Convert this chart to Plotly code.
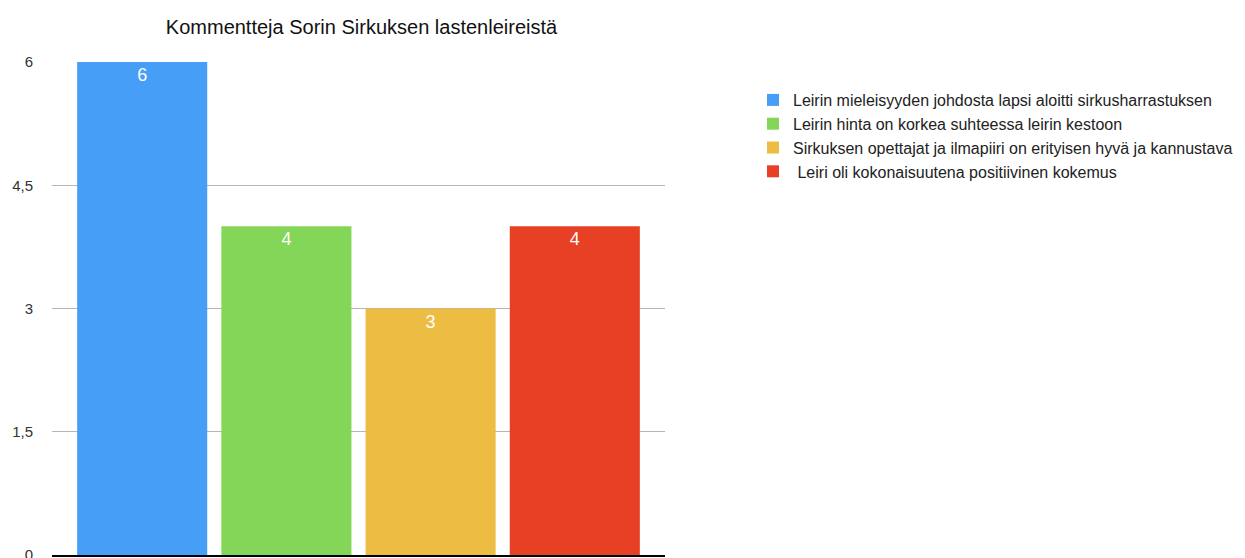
import plotly.graph_objects as go

title = "Kommentteja Sorin Sirkuksen lastenleireistä"
series_names = [
    "Leirin mieleisyyden johdosta lapsi aloitti sirkusharrastuksen",
    "Leirin hinta on korkea suhteessa leirin kestoon",
    "Sirkuksen opettajat ja ilmapiiri on erityisen hyvä ja kannustava",
    " Leiri oli kokonaisuutena positiivinen kokemus",
]
values = [6, 4, 3, 4]
colors = ["#479EF7", "#84D658", "#EDBD43", "#E84025"]
category = ["Kommentit"]
tick_vals = [0, 1.5, 3, 4.5, 6]

# page body has an 8px margin, so the figure is sized to fit the window
W, H = 1237, 550
OFF = 8

fig = go.Figure()
for name, v, c in zip(series_names, values, colors):
    fig.add_trace(go.Bar(
        x=category, y=[v], name=name,
        marker=dict(color=c, line=dict(width=0)),
        text=[str(v)], textposition="inside", insidetextanchor="end",
        textfont=dict(color="white", size=18, family="Liberation Sans"),
        constraintext="none",
    ))

fig.update_layout(
    width=W, height=H,
    margin=dict(l=52 - OFF, r=1245 - 665, t=62 - OFF, b=558 - 555, autoexpand=False),
    paper_bgcolor="white", plot_bgcolor="white",
    barmode="group", bargap=0.059, bargroupgap=0.098,
    separators=", ",
    font=dict(family="Liberation Sans", color="#222222", size=13),
    title=dict(text=title, x=(361.5 - OFF) / W, xanchor="center",
               y=1 - (27 - OFF) / H, yanchor="middle", yref="container",
               font=dict(size=20, color="#111111", family="Liberation Sans")),
    legend=dict(x=(753 - OFF) / W, xref="container", y=1 - (83 - OFF) / H, yref="container",
                yanchor="top", xanchor="left",
                font=dict(size=16, color="#222222"), tracegroupgap=0,
                itemwidth=30, bgcolor="rgba(0,0,0,0)"),
)
fig.update_xaxes(showticklabels=False, showgrid=False, showline=True,
                 linecolor="black", linewidth=2, ticks="", zeroline=False,
                 automargin=False)
fig.update_yaxes(range=[0, 6], tickvals=tick_vals, showgrid=True,
                 gridcolor="#b5b5b5", gridwidth=1, zeroline=False,
                 showline=False, ticks="", ticklabelstandoff=18,
                 ticklabeloverflow="allow", automargin=False,
                 tickfont=dict(size=15, color="#333333"))

fig.write_html("out.html")
